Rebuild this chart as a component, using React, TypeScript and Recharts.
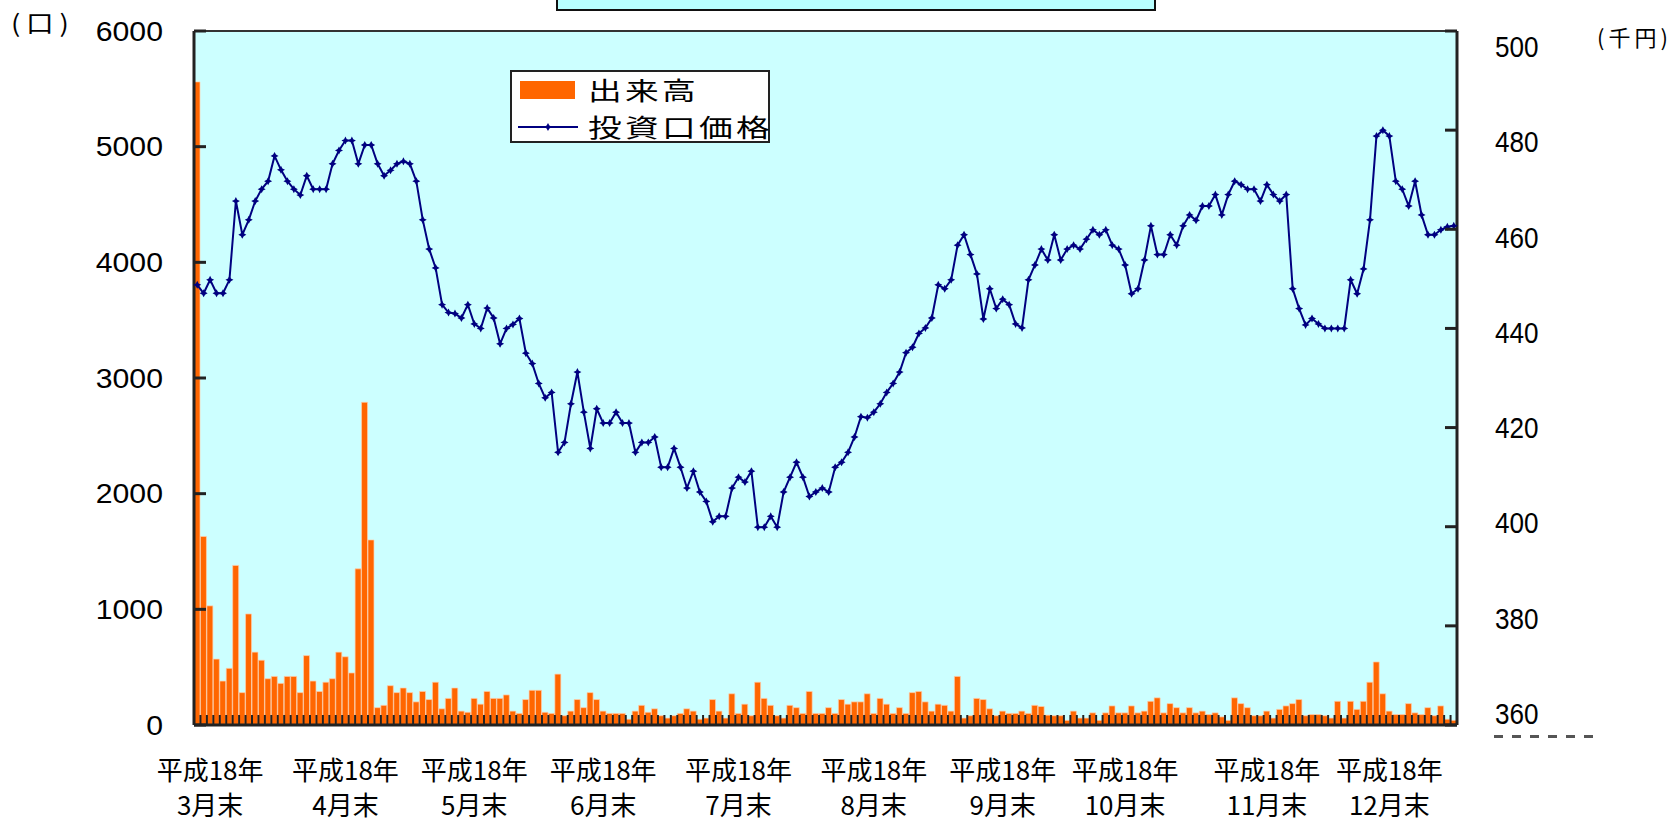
import * as React from 'react'
import {
  ComposedChart,
  Bar,
  Line,
  XAxis,
  YAxis,
  CartesianGrid,
  Legend,
  ReferenceLine,
  Label,
} from 'recharts'

// daily trading volume (口), 平成18年 end of March through December
const VOLUME = [
  5560, 1630, 1030, 570, 380, 490, 1380, 280, 960, 630,
  560, 400, 420, 360, 420, 420, 280, 600, 380, 290,
  370, 400, 630, 590, 450, 1350, 2790, 1600, 150, 170,
  340, 280, 320, 280, 200, 290, 220, 370, 140, 230,
  320, 120, 110, 230, 180, 290, 230, 230, 260, 120,
  100, 220, 300, 300, 110, 100, 440, 80, 120, 220,
  150, 280, 220, 120, 100, 100, 100, 50, 120, 170,
  110, 140, 80, 60, 80, 100, 140, 120, 50, 60,
  220, 120, 60, 270, 100, 180, 80, 370, 230, 170,
  80, 60, 170, 150, 100, 290, 100, 100, 150, 100,
  220, 180, 200, 200, 270, 100, 230, 180, 100, 150,
  100, 280, 290, 200, 120, 180, 170, 120, 420, 60,
  80, 230, 220, 140, 80, 120, 100, 100, 120, 100,
  170, 160, 85, 80, 80, 40, 120, 60, 60, 105,
  40, 105, 165, 105, 105, 165, 105, 120, 205, 235,
  105, 185, 150, 105, 150, 105, 120, 90, 105, 70,
  40, 235, 185, 150, 80, 80, 120, 60, 135, 165,
  185, 220, 80, 90, 90, 80, 60, 205, 60, 205,
  135, 205, 370, 545, 270, 120, 90, 90, 185, 105,
  90, 150, 80, 165, 50, 40,
]

// closing unit price (千円)
const PRICE = [
  448.8, 447.1, 449.8, 447.1, 447.1, 449.8, 465.7, 458.9, 461.9, 465.7,
  468.1, 469.7, 474.8, 472.0, 469.7, 468.1, 466.9, 470.8, 468.1, 468.1,
  468.1, 473.2, 475.9, 477.9, 477.9, 473.2, 477.0, 477.0, 473.2, 470.8,
  471.9, 473.2, 473.7, 473.2, 469.7, 461.9, 456.0, 452.2, 444.8, 443.2,
  443.0, 442.1, 444.8, 440.9, 440.0, 444.1, 442.1, 436.9, 440.0, 440.8,
  442.0, 435.0, 432.9, 428.9, 426.0, 427.1, 415.0, 417.0, 424.8, 431.2,
  423.1, 415.8, 423.8, 420.9, 420.9, 423.1, 420.9, 420.9, 415.0, 417.0,
  417.0, 418.1, 412.0, 412.0, 415.8, 412.0, 407.8, 411.2, 407.0, 405.1,
  401.0, 402.1, 402.1, 407.8, 410.0, 409.0, 411.2, 399.9, 399.9, 402.1,
  399.9, 407.0, 410.0, 413.0, 410.0, 406.1, 407.0, 407.8, 407.0, 412.0,
  413.0, 415.0, 418.1, 422.2, 422.0, 423.1, 424.8, 427.1, 428.9, 431.2,
  435.1, 436.2, 439.0, 440.1, 442.1, 448.8, 448.0, 449.8, 456.8, 458.9,
  454.9, 451.0, 441.9, 448.0, 444.0, 445.9, 444.8, 440.9, 440.1, 449.8,
  452.8, 456.0, 453.8, 458.9, 453.8, 456.0, 456.8, 456.0, 458.0, 459.9,
  458.9, 459.9, 456.8, 456.0, 452.8, 447.0, 448.0, 453.8, 460.7, 454.9,
  454.9, 458.9, 456.8, 460.7, 462.9, 461.8, 464.7, 464.7, 467.0, 462.9,
  467.0, 469.7, 469.0, 468.1, 468.1, 465.7, 469.0, 467.0, 465.7, 467.0,
  448.0, 444.0, 440.7, 442.0, 440.9, 440.0, 440.0, 440.0, 440.0, 449.8,
  447.0, 452.0, 461.9, 478.8, 480.0, 478.8, 469.7, 468.1, 464.7, 469.7,
  462.9, 458.9, 458.9, 459.9, 460.5, 460.7,
]

// trading day number, one category per session
const DAYS = VOLUME.map((_, i) => i + 1)

// month-end labels and the trading day each one sits on
const MONTH_TICKS = [3, 24, 44, 64, 85, 106, 126, 145, 167, 186]
const MONTH_LABELS = ['3月末', '4月末', '5月末', '6月末', '7月末', '8月末', '9月末', '10月末', '11月末', '12月末']
const YEAR_LABEL = '平成18年'

const VOLUME_TICKS = [0, 1000, 2000, 3000, 4000, 5000, 6000]
const PRICE_TICKS = [360, 380, 400, 420, 440, 460, 480, 500]

const NUM_FONT = '"Liberation Sans", Arial, sans-serif'
const JP_FONT = '"Noto Sans CJK JP", "Noto Sans CJK SC", sans-serif'

const CHART_W = 1673
const CHART_H = 825
const PLOT_LEFT = 194
const PLOT_RIGHT = 1457
const PLOT_TOP = 31
const PLOT_BOTTOM = 725
const STEP = (PLOT_RIGHT - PLOT_LEFT) / DAYS.length

const chartData = DAYS.map((day, i) => ({ day, volume: VOLUME[i], price: PRICE[i] }))

function Marker({ cx, cy, index }: any) {
  if (cx == null || cy == null) return <g key={`m${index}`} />
  const a = 4
  const b = 1.4
  const d = `M${cx},${cy - a}L${cx + b},${cy - b}L${cx + a},${cy}L${cx + b},${cy + b}L${cx},${cy + a}L${cx - b},${cy + b}L${cx - a},${cy}L${cx - b},${cy - b}Z`
  return <path key={`m${index}`} d={d} fill="#000080" />
}

// with tickSize/tickMargin at 0 the tick x sits on the axis line, ticks point inward
function VolumeTick({ x, y, payload }: any) {
  return (
    <g>
      <line x1={x} x2={x + 12} y1={y} y2={y} stroke="#222" strokeWidth={3} />
      <text
        transform={`translate(${x - 31},${y}) scale(1.12,1)`}
        dy="0.36em"
        textAnchor="end"
        fontSize={27}
        fontFamily={NUM_FONT}
        fill="#000"
      >
        {payload.value}
      </text>
    </g>
  )
}

function PriceTick({ x, y, payload }: any) {
  // labels are spread a little tighter than the tick marks
  const shift = 15.7 - (3.9 * (500 - payload.value)) / 20
  return (
    <g>
      <line x1={x - 12} x2={x} y1={y} y2={y} stroke="#222" strokeWidth={3} />
      <text
        transform={`translate(${x + 38},${y + shift}) scale(0.9,1)`}
        dy="0.36em"
        textAnchor="start"
        fontSize={29}
        fontFamily={NUM_FONT}
        fill="#000"
      >
        {payload.value}
      </text>
    </g>
  )
}

function DayTick({ x, y, payload }: any) {
  const i = MONTH_TICKS.indexOf(payload.value)
  const bx = x - STEP / 2
  return (
    <g>
      <line x1={bx} x2={bx} y1={y} y2={y - 10} stroke="#222" strokeWidth={2} />
      {i >= 0 && (
        <g fontFamily={JP_FONT} fontSize={26} fill="#000" textAnchor="middle">
          <text x={x} y={y + 55}>{YEAR_LABEL}</text>
          <text x={x} y={y + 90}>{MONTH_LABELS[i]}</text>
        </g>
      )}
    </g>
  )
}

function LegendBox({ payload }: any) {
  if (!payload?.length) return null
  const rows = [...payload].sort((a: any) => (a.type === 'line' ? 1 : -1))
  const textStyle: React.CSSProperties = {
    position: 'absolute',
    left: 76,
    fontFamily: JP_FONT,
    fontSize: 25,
    letterSpacing: 2.4,
    lineHeight: '25px',
    color: '#000',
    whiteSpace: 'nowrap',
    transform: 'scaleX(1.35)',
    transformOrigin: 'left center',
  }
  return (
    <div style={{ position: 'relative', width: 256, height: 69, border: '2px solid #222', background: '#fff' }}>
      {rows.map((item: any, k: number) => {
        const cy = k === 0 ? 18 : 55
        return (
          <React.Fragment key={item.value}>
            {item.type === 'line' ? (
              <svg style={{ position: 'absolute', left: 6, top: cy - 6 }} width={60} height={12}>
                <line x1={0} x2={60} y1={6} y2={6} stroke={item.color} strokeWidth={2} />
                <path d="M30,2L31.4,4.6L34,6L31.4,7.4L30,10L28.6,7.4L26,6L28.6,4.6Z" fill={item.color} />
              </svg>
            ) : (
              <div style={{ position: 'absolute', left: 8, top: cy - 9, width: 55, height: 18, background: item.color }} />
            )}
            <span style={{ ...textStyle, top: cy - 13 }}>{item.value}</span>
          </React.Fragment>
        )
      })}
    </div>
  )
}

function VolumeUnit({ viewBox }: any) {
  return (
    <text
      transform={`translate(${viewBox.x + 11},32) scale(1.15,1)`}
      fontSize={24}
      letterSpacing={5}
      fontFamily={JP_FONT}
      fill="#000"
    >
      (口)
    </text>
  )
}

function PriceUnit({ viewBox }: any) {
  return (
    <text x={viewBox.x + 140} y={46} fontSize={22} letterSpacing={4} fontFamily={JP_FONT} fill="#000">
      (千円)
    </text>
  )
}

export default function App() {
  return (
    <div style={{ position: 'absolute', left: 0, top: 0, width: CHART_W, height: CHART_H, background: '#fff', overflow: 'hidden' }}>
      <div
        style={{
          position: 'absolute',
          left: 556,
          top: -30,
          width: 596,
          height: 37,
          border: '2px solid #111',
          background: '#B8FFFF',
        }}
      />
      <div
        style={{
          position: 'absolute',
          left: 1494,
          top: 735,
          width: 104,
          height: 3,
          background: 'repeating-linear-gradient(to right, #555 0 9px, transparent 9px 18px)',
        }}
      />
      <ComposedChart
        width={CHART_W}
        height={CHART_H}
        data={chartData}
        margin={{ top: PLOT_TOP, right: 0, bottom: 0, left: 0 }}
        barCategoryGap={0}
        barGap={0}
      >
        <CartesianGrid yAxisId="left" fill="#CCFFFF" stroke="none" horizontal={false} vertical={false} />
        <Bar
          yAxisId="left"
          dataKey="volume"
          name="出来高"
          fill="#FF6600"
          stroke="#FFCFAE"
          strokeWidth={0.7}
          isAnimationActive={false}
        />
        <Line
          yAxisId="right"
          dataKey="price"
          name="投資口価格"
          type="linear"
          stroke="#000080"
          strokeWidth={2}
          dot={Marker}
          activeDot={false}
          isAnimationActive={false}
        />
        <ReferenceLine yAxisId="left" y={6000} stroke="#333" strokeWidth={2} />
        <XAxis
          dataKey="day"
          type="category"
          interval={0}
          height={CHART_H - PLOT_BOTTOM}
          tickLine={false}
          tickSize={0}
          tickMargin={0}
          tick={DayTick}
          axisLine={{ stroke: '#222', strokeWidth: 3 }}
        />
        <YAxis
          yAxisId="left"
          width={PLOT_LEFT}
          domain={[0, 6000]}
          ticks={VOLUME_TICKS}
          interval={0}
          tickLine={false}
          tickSize={0}
          tickMargin={0}
          tick={VolumeTick}
          axisLine={{ stroke: '#222', strokeWidth: 3 }}
        >
          <Label content={VolumeUnit} />
        </YAxis>
        <YAxis
          yAxisId="right"
          orientation="right"
          width={CHART_W - PLOT_RIGHT}
          domain={[360, 500]}
          ticks={PRICE_TICKS}
          interval={0}
          tickLine={false}
          tickSize={0}
          tickMargin={0}
          tick={PriceTick}
          axisLine={{ stroke: '#222', strokeWidth: 3 }}
        >
          <Label content={PriceUnit} />
        </YAxis>
        <Legend
          layout="vertical"
          align="center"
          verticalAlign="middle"
          wrapperStyle={{ left: 510, top: 70, width: 260, height: 73 }}
          content={LegendBox}
        />
      </ComposedChart>
    </div>
  )
}
